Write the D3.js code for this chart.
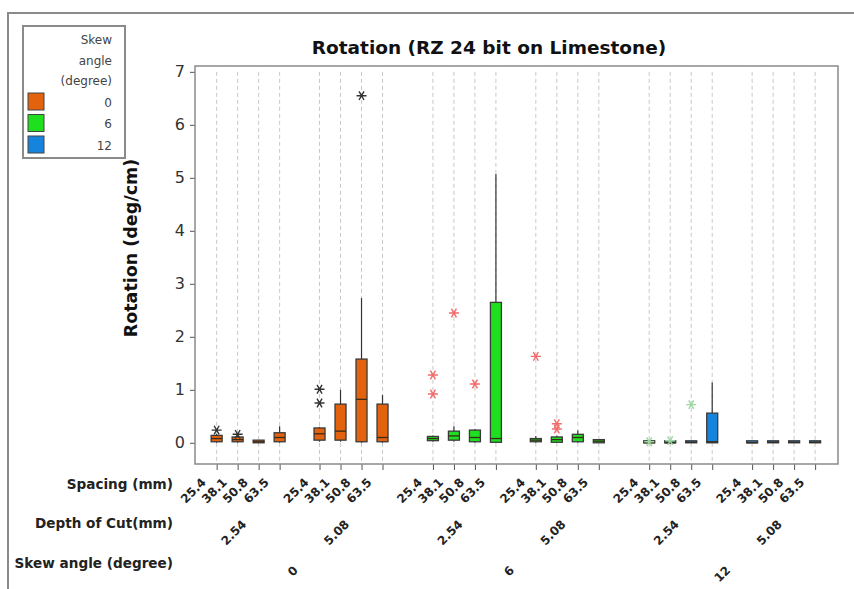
<!DOCTYPE html>
<html>
<head>
<meta charset="utf-8">
<script src="https://cdn.jsdelivr.net/npm/d3@7"></script>
<style>
  html, body { margin: 0; padding: 0; background: #fff; }
  svg { display: block; font-family: "DejaVu Sans", Verdana, sans-serif; }
</style>
</head>
<body>
<svg id="chart" width="854" height="589"></svg>
<script>
// Factor levels
const skewAngles = [0, 6, 12];
const depths = ["2.54", "5.08"];
const spacings = ["25.4", "38.1", "50.8", "63.5"];

// Box statistics (deg/cm), ordered skew -> depth -> spacing
const whiskerLow = [0.00, 0.00, 0.00, 0.00,  0.02, 0.02, 0.00, 0.00,
                    0.02, 0.02, 0.00, 0.00,  0.00, 0.00, 0.00, 0.00,
                    0.00, 0.00, 0.00, 0.00,  0.00, 0.00, 0.00, 0.00];
const q1 =         [0.02, 0.02, 0.00, 0.02,  0.05, 0.05, 0.02, 0.02,
                    0.04, 0.05, 0.02, 0.01,  0.02, 0.01, 0.02, 0.00,
                    0.00, 0.00, 0.00, 0.00,  0.00, 0.00, 0.00, 0.00];
const medians =    [0.08, 0.06, 0.02, 0.10,  0.17, 0.22, 0.82, 0.10,
                    0.08, 0.13, 0.10, 0.08,  0.05, 0.06, 0.10, 0.03,
                    0.00, 0.00, 0.01, 0.02,  0.00, 0.01, 0.01, 0.01];
const q3 =         [0.14, 0.11, 0.05, 0.19,  0.28, 0.73, 1.58, 0.73,
                    0.12, 0.22, 0.24, 2.65,  0.08, 0.11, 0.16, 0.06,
                    0.01, 0.01, 0.02, 0.56,  0.00, 0.02, 0.02, 0.02];
const whiskerHigh =[0.17, 0.15, 0.05, 0.31,  0.30, 1.00, 2.73, 0.90,
                    0.14, 0.31, 0.26, 5.07,  0.13, 0.14, 0.23, 0.07,
                    0.01, 0.01, 0.02, 1.14,  0.00, 0.02, 0.02, 0.02];
const outliers =   [[0.24], [0.16], [], [],  [0.75, 1.01], [], [6.55], [],
                    [0.92, 1.28], [2.45], [1.11], [],  [1.63], [0.26, 0.36], [], [],
                    [0.02], [0.04], [0.72], [],  [], [], [], []];

const yTicks = [0, 1, 2, 3, 4, 5, 6, 7];

const skewColors = ["#E2620E", "#1EE01E", "#1684DC"];
const outlierColors = ["#333333", "#F26A6A", "#9ED89E"];

const svg = d3.select("#chart");
const plot = { left: 195, top: 66, right: 838, bottom: 464 };

// Build one record per box
const boxes = [];
skewAngles.forEach((s, si) => {
  depths.forEach((d, di) => {
    spacings.forEach((sp, pi) => {
      const i = boxes.length;
      boxes.push({
        si, di, pi, skew: s, depth: d, spacing: sp,
        pos: si * 10.3 + di * 4.9 + pi,
        lo: whiskerLow[i], q1: q1[i], med: medians[i], q3: q3[i], hi: whiskerHigh[i],
        out: outliers[i]
      });
    });
  });
});

const x = d3.scaleLinear().domain([-1.03, 29.59]).range([plot.left, plot.right]);
const y = d3.scaleLinear().domain([-0.4, 7.11]).range([plot.bottom, plot.top]);

// Outer frame
svg.append("path")
  .attr("d", "M8,589 L8,13 L854,13")
  .attr("fill", "none").attr("stroke", "#8a8a8a").attr("stroke-width", 2);

// Title
svg.append("text")
  .attr("x", 489).attr("y", 54)
  .attr("text-anchor", "middle")
  .attr("font-size", 18.5).attr("font-weight", "bold").attr("fill", "#111")
  .text("Rotation (RZ 24 bit on Limestone)");

// Vertical dashed reference lines at each box
svg.append("g").selectAll("line").data(boxes).join("line")
  .attr("x1", d => x(d.pos)).attr("x2", d => x(d.pos))
  .attr("y1", y(7)).attr("y2", plot.bottom)
  .attr("stroke", "#c8c8c8").attr("stroke-width", 1).attr("stroke-dasharray", "4,3");

// Y axis
const yAxis = d3.axisLeft(y).tickValues(yTicks).tickSize(5).tickPadding(5).tickFormat(d3.format("d"));
const gy = svg.append("g").attr("transform", `translate(${plot.left},0)`).call(yAxis);
gy.select(".domain").remove();
gy.selectAll(".tick line").attr("stroke", "#555");
gy.selectAll(".tick text").attr("font-size", 16).attr("fill", "#333")
  .attr("font-family", "DejaVu Sans, sans-serif");

// X axis ticks (labels drawn separately, rotated)
const xAxis = d3.axisBottom(x).tickValues(boxes.map(d => d.pos)).tickSize(6).tickFormat("");
const gx = svg.append("g").attr("transform", `translate(0,${plot.bottom})`).call(xAxis);
gx.select(".domain").remove();
gx.selectAll(".tick line").attr("stroke", "#555");

// Plot frame
svg.append("rect")
  .attr("x", plot.left).attr("y", plot.top)
  .attr("width", plot.right - plot.left).attr("height", plot.bottom - plot.top)
  .attr("fill", "none").attr("stroke", "#8a8a8a").attr("stroke-width", 1.5);

// Y axis title
svg.append("text")
  .attr("transform", "translate(137,248) rotate(-90)")
  .attr("text-anchor", "middle")
  .attr("font-size", 17.5).attr("font-weight", "bold").attr("fill", "#111")
  .text("Rotation (deg/cm)");

// Boxes
const bw = 11;
const g = svg.append("g");
const boxG = g.selectAll("g.box").data(boxes).join("g").attr("class", "box");

boxG.append("line")
  .attr("x1", d => x(d.pos)).attr("x2", d => x(d.pos))
  .attr("y1", d => y(d.hi)).attr("y2", d => y(d.q3))
  .attr("stroke", "#333").attr("stroke-width", 1.2);
boxG.append("line")
  .attr("x1", d => x(d.pos)).attr("x2", d => x(d.pos))
  .attr("y1", d => y(d.q1)).attr("y2", d => y(d.lo))
  .attr("stroke", "#333").attr("stroke-width", 1.2);
boxG.append("rect")
  .attr("x", d => x(d.pos) - bw / 2).attr("width", bw)
  .attr("y", d => Math.min(y(d.q3), y(d.q1) - 2))
  .attr("height", d => Math.max(y(d.q1) - y(d.q3), 2))
  .attr("fill", d => skewColors[d.si])
  .attr("stroke", "#3a3a3a").attr("stroke-width", 1.3);
boxG.append("line")
  .attr("x1", d => x(d.pos) - bw / 2).attr("x2", d => x(d.pos) + bw / 2)
  .attr("y1", d => y(d.med)).attr("y2", d => y(d.med))
  .attr("stroke", "#3a2a1a").attr("stroke-width", 1.3);

// Outlier asterisks (six arms)
const asterisk = {
  draw(ctx, size) {
    const r = Math.sqrt(size) / 2;
    for (let k = 0; k < 3; k++) {
      const a = k * Math.PI / 3;
      ctx.moveTo(-r * Math.cos(a), -r * Math.sin(a));
      ctx.lineTo(r * Math.cos(a), r * Math.sin(a));
    }
  }
};
const outPts = boxes.flatMap(b => b.out.map(v => ({ pos: b.pos, v, si: b.si })));
svg.append("g").selectAll("path").data(outPts).join("path")
  .attr("transform", d => `translate(${x(d.pos)},${y(d.v)})`)
  .attr("d", d3.symbol().type(asterisk).size(100))
  .attr("fill", "none")
  .attr("stroke", d => outlierColors[d.si]).attr("stroke-width", 1.4);

// Spacing labels
svg.append("g").selectAll("text").data(boxes).join("text")
  .attr("transform", d => `translate(${x(d.pos) - 10},483) rotate(-45)`)
  .attr("text-anchor", "end")
  .attr("font-size", 12).attr("font-weight", "bold").attr("fill", "#222")
  .text(d => d.spacing);

// Depth labels, centred on each depth group
const depthGroups = [];
skewAngles.forEach((s, si) => depths.forEach((d, di) => {
  const members = boxes.filter(b => b.si === si && b.di === di);
  depthGroups.push({ label: d, center: (x(members[0].pos) + x(members[members.length - 1].pos)) / 2 });
}));
svg.append("g").selectAll("text").data(depthGroups).join("text")
  .attr("transform", d => `translate(${d.center - 1},525) rotate(-45)`)
  .attr("text-anchor", "end")
  .attr("font-size", 12).attr("font-weight", "bold").attr("fill", "#222")
  .text(d => d.label);

// Skew angle labels
const skewGroups = skewAngles.map((s, si) => {
  const members = boxes.filter(b => b.si === si);
  return { label: String(s), center: (x(members[0].pos) + x(members[members.length - 1].pos)) / 2 };
});
svg.append("g").selectAll("text").data(skewGroups).join("text")
  .attr("transform", d => `translate(${d.center - 1},571) rotate(-45)`)
  .attr("text-anchor", "end")
  .attr("font-size", 12).attr("font-weight", "bold").attr("fill", "#222")
  .text(d => d.label);

// Row titles
const rowTitles = [["Spacing (mm)", 489], ["Depth of Cut(mm)", 528], ["Skew angle (degree)", 568]];
svg.append("g").selectAll("text").data(rowTitles).join("text")
  .attr("x", 173).attr("y", d => d[1])
  .attr("text-anchor", "end")
  .attr("font-size", 13.6).attr("font-weight", "bold").attr("fill", "#222")
  .text(d => d[0]);

// Legend
const lg = svg.append("g");
lg.append("rect").attr("x", 23).attr("y", 26).attr("width", 102).attr("height", 132)
  .attr("fill", "#fff").attr("stroke", "#8a8a8a").attr("stroke-width", 2);
const legendTitle = ["Skew", "angle", "(degree)"];
lg.selectAll("text.t").data(legendTitle).join("text").attr("class", "t")
  .attr("x", 112).attr("y", (d, i) => 44 + i * 20.5)
  .attr("text-anchor", "end").attr("font-size", 12).attr("fill", "#444")
  .text(d => d);
const li = lg.selectAll("g.item").data(skewAngles).join("g").attr("class", "item")
  .attr("transform", (d, i) => `translate(0,${93 + i * 21.5})`);
li.append("rect").attr("x", 28).attr("y", 0).attr("width", 16).attr("height", 17)
  .attr("fill", (d, i) => skewColors[i]).attr("stroke", "#444").attr("stroke-width", 1);
li.append("text").attr("x", 112).attr("y", 13.5)
  .attr("text-anchor", "end").attr("font-size", 12).attr("fill", "#444")
  .text(d => d);
</script>
</body>
</html>
